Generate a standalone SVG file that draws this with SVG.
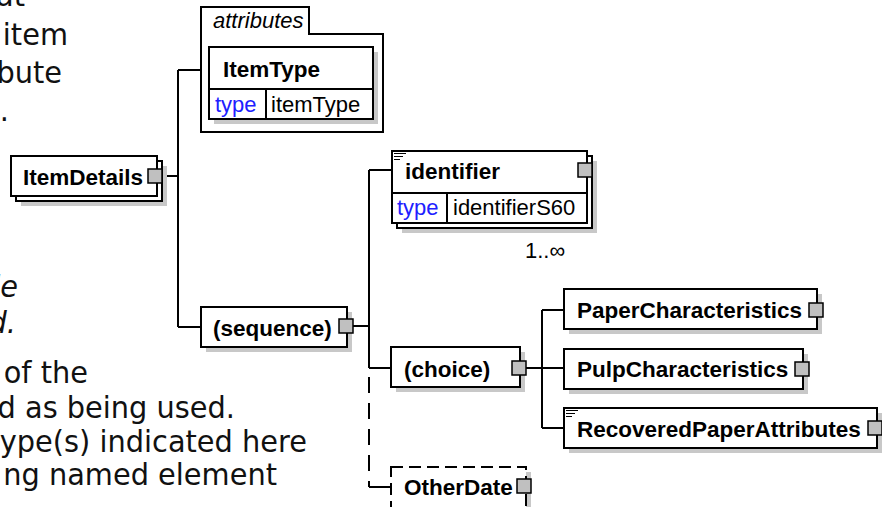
<svg xmlns="http://www.w3.org/2000/svg" width="882" height="507" viewBox="0 0 882 507">
<style>
.slide{font-family:"DejaVu Sans",Verdana,sans-serif;font-size:31px;fill:#111;text-anchor:end}
.it{font-style:italic}
.box{fill:#fff;stroke:#000;stroke-width:2}
.shadow{fill:#c8c8c8}
.exp{fill:#c0c0c0;stroke:#000;stroke-width:1.5}
.name{font-family:"Liberation Sans",Arial,sans-serif;font-weight:bold;font-size:22.5px;fill:#000}
.norm{font-family:"Liberation Sans",Arial,sans-serif;font-size:22px;fill:#000}
.kw{font-family:"Liberation Sans",Arial,sans-serif;font-size:22px;fill:#2020ff}
.conn{fill:none;stroke:#000;stroke-width:2}
.dash{fill:none;stroke:#000;stroke-width:2;stroke-dasharray:16 10}
.doc{stroke:#000;stroke-width:1}
</style>
<rect width="882" height="507" fill="#fff"/>
<g id="slide-text" transform="scale(0.93 1)">
<text class="slide" x="26.9" y="6">at</text>
<text class="slide" x="73.1" y="45">item</text>
<text class="slide" x="66.7" y="83">bute</text>
<text class="slide" x="9.7" y="121">.</text>
<text class="slide it" x="19.4" y="297">le</text>
<text class="slide it" x="17.2" y="333">d.</text>
<text class="slide" x="94.6" y="383">of the</text>
<text class="slide" x="252.7" y="418">d as being used.</text>
<text class="slide" x="330.1" y="452">ype(s) indicated here</text>
<text class="slide" x="297.8" y="485">ng named element</text>
</g>
<g id="connectors">
<path class="conn" d="M163,176 H178 M178,70 V327 M178,70 H201 M178,327 H201"/>
<path class="conn" d="M353,326 H369 M369,170 V368 M369,170 H392 M369,368 H391 M369,487 H391"/>
<path class="dash" d="M369,377 V487"/>
<path class="conn" d="M526,368 H542 M542,310 V428 M542,310 H564 M542,368 H564 M542,428 H564"/>
</g>
<g id="attributes">
<path class="box" d="M201,132 V7 H309 V34 H383 V132 Z"/>
<text x="213" y="28" font-family="Liberation Sans, Arial, sans-serif" font-style="italic" font-size="22" fill="#000">attributes</text>
</g>
<g id="ItemType">
<rect class="shadow" x="214" y="52" width="164" height="72"/>
<rect class="box" x="209" y="47" width="164" height="72"/>
<path class="conn" d="M209,89 H373 M266,89 V119"/>
<text class="name" x="223" y="77">ItemType</text>
<text class="kw" x="215" y="112">type</text>
<text class="norm" x="271" y="112">itemType</text>
</g>
<g id="ItemDetails">
<rect class="shadow" x="21" y="166" width="146" height="40"/>
<rect class="box" x="16" y="161" width="146" height="40"/>
<rect class="box" x="11" y="156" width="146" height="40"/>
<text class="name" x="23" y="185">ItemDetails</text>
<rect class="exp" x="148" y="169" width="14" height="14"/>
</g>
<g id="sequence">
<rect class="shadow" x="206" y="312" width="146" height="40"/>
<rect class="box" x="201" y="307" width="146" height="40"/>
<text class="name" x="213" y="336">(sequence)</text>
<rect class="exp" x="339" y="319" width="14" height="14"/>
</g>
<g id="identifier">
<rect class="shadow" x="402" y="161" width="195" height="72"/>
<rect class="box" x="397" y="156" width="195" height="72"/>
<rect class="box" x="392" y="151" width="195" height="72"/>
<path class="conn" d="M392,193 H587 M447,193 V223"/>
<path class="doc" d="M394,153.5 H406 M394,156.5 H403 M394,159.5 H400"/>
<text class="name" x="405" y="179">identifier</text>
<rect class="exp" x="578" y="163" width="14" height="14"/>
<text class="kw" x="397" y="215">type</text>
<text class="norm" x="453" y="215">identifierS60</text>
<text class="norm" x="525" y="258">1..∞</text>
</g>
<g id="choice">
<rect class="shadow" x="396" y="352" width="129" height="40"/>
<rect class="box" x="391" y="347" width="129" height="40"/>
<text class="name" x="404" y="377">(choice)</text>
<rect class="exp" x="512" y="361" width="14" height="14"/>
</g>
<g id="OtherDate">
<rect class="shadow" x="396" y="472" width="135" height="50"/>
<rect class="box" x="391" y="467" width="135" height="50" stroke-dasharray="12 6"/>
<text class="name" x="404" y="495">OtherDate</text>
<rect class="exp" x="517" y="479" width="14" height="14"/>
</g>
<g id="PaperCharacteristics">
<rect class="shadow" x="569" y="294" width="253" height="40"/>
<rect class="box" x="564" y="289" width="253" height="40"/>
<text class="name" x="577" y="318">PaperCharacteristics</text>
<rect class="exp" x="809" y="303" width="14" height="14"/>
</g>
<g id="PulpCharacteristics">
<rect class="shadow" x="569" y="354" width="239" height="40"/>
<rect class="box" x="564" y="349" width="239" height="40"/>
<text class="name" x="577" y="377">PulpCharacteristics</text>
<rect class="exp" x="795" y="362" width="14" height="14"/>
</g>
<g id="RecoveredPaperAttributes">
<rect class="shadow" x="569" y="413" width="313" height="40"/>
<rect class="box" x="564" y="408" width="313" height="40"/>
<path class="doc" d="M566,410.5 H578 M566,413.5 H575 M566,416.5 H572"/>
<text class="name" x="577" y="437">RecoveredPaperAttributes</text>
<rect class="exp" x="868" y="421" width="14" height="14"/>
</g>
</svg>
